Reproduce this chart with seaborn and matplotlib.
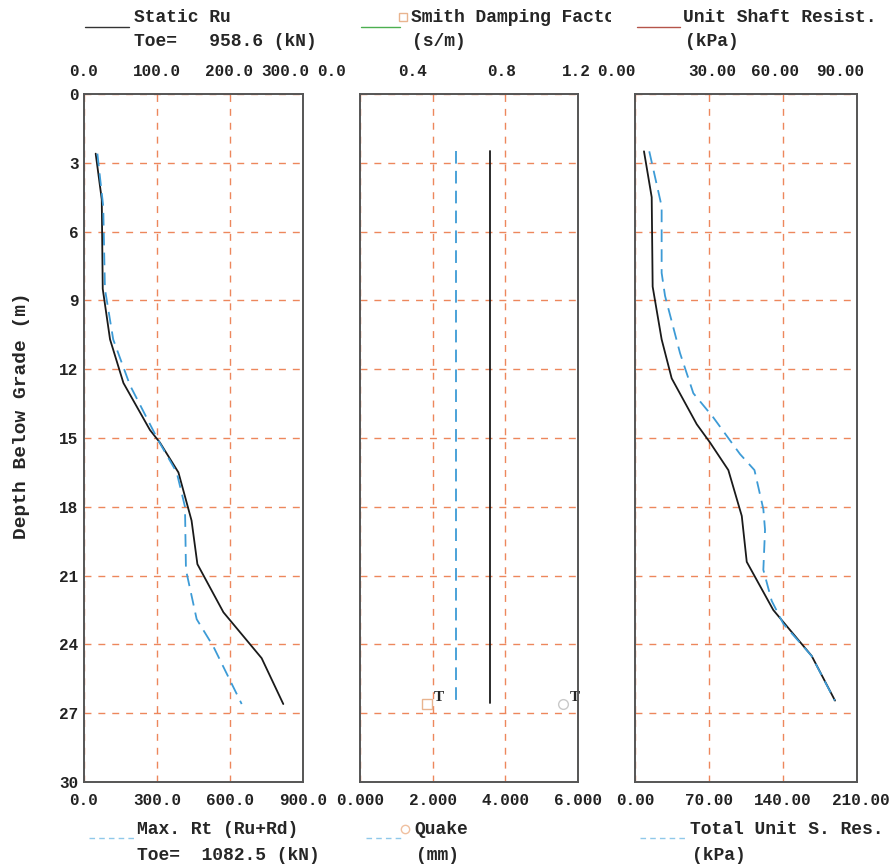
import numpy as np
import pandas as pd
import matplotlib
matplotlib.use("Agg")
import matplotlib.pyplot as plt
import seaborn as sns
from matplotlib.lines import Line2D
from matplotlib.transforms import ScaledTranslation, Bbox, TransformedBbox

# ---------------- data ----------------
# Panel 1: static and max resistance (kN)
ru_depth = [2.6, 4.6, 8.5, 10.7, 12.6, 14.65, 15.2, 16.5, 18.6, 20.5, 22.6, 24.6, 26.6]
ru_static = [48, 73, 77, 107, 162, 271, 312, 388, 442, 466, 573, 730, 819]
rt_depth = [2.6, 4.9, 8.5, 10.7, 12.7, 15.1, 16.5, 18.0, 20.75, 22.9, 24.1, 26.6]
rt_max = [55, 79, 86, 120, 189, 305, 381, 415, 419, 463, 532, 648]

# Panel 2: damping (s/m) and quake (mm)
dq_depth = [2.5, 26.55]
damping = [0.716, 0.716]
quake = [2.64, 2.64]
toe_depth = 26.6
toe_damping = 0.37
toe_quake = 5.6

# Panel 3: unit shaft resistance (kPa)
shaft_depth = [2.5, 4.5, 8.4, 10.7, 12.4, 14.4, 15.2, 16.4, 18.4, 20.4, 22.5, 24.5, 26.45]
shaft_unit = [8.5, 15.8, 16.7, 25.2, 34.7, 58.4, 71, 88.3, 101, 105.7, 130.8, 167.1, 189.2]
total_depth = [2.5, 4.9, 7.8, 8.8, 11.3, 13.05, 14.1, 15.7, 16.4, 18.1, 19.0, 20.75,
               22.1, 23.1, 24.5, 26.45]
total_unit = [13.5, 25.2, 25.2, 28.4, 42.6, 55.2, 74, 99.3, 113, 121.4, 123, 121.4,
              129.3, 140.3, 167, 189]

depth_ticks = list(range(0, 31, 3))
p1_bottom = [0, 300, 600, 900]
p1_top = [0, 100, 200, 300]
p2_bottom = [0, 2, 4, 6]
p2_top = [0, 0.4, 0.8, 1.2]
p3_bottom = [0, 70, 140, 210]
p3_top = [0, 30, 60, 90]
p1_bottom_lbl = ["0.0", "300.0", "600.0", "900.0"]
p1_top_lbl = ["0.0", "100.0", "200.0", "300.0"]
p2_bottom_lbl = ["0.000", "2.000", "4.000", "6.000"]
p2_top_lbl = ["0.0", "0.4", "0.8", "1.2"]
p3_bottom_lbl = ["0.00", "70.00", "140.00", "210.00"]
p3_top_lbl = ["0.00", "30.00", "60.00", "90.00"]

# ---------------- style ----------------
sns.set_theme(style="white")
plt.rcParams["font.family"] = ["Liberation Mono", "DejaVu Sans Mono"]
plt.rcParams["font.weight"] = "bold"

BLACK = "#1a1a1a"
BLUE = "#3d9bd6"
GRID = "#ec7a4a"
SPINE = "#555555"
FS_TICK = 11.5
FS_LEG = 13

W, H = 893, 865
fig = plt.figure(figsize=(W / 100, H / 100), dpi=100)


def rect(l, r, t=94, b=782):
    return [l / W, 1 - b / H, (r - l) / W, (b - t) / H]


ax1 = fig.add_axes(rect(84, 303))
ax2 = fig.add_axes(rect(360, 578))
ax3 = fig.add_axes(rect(635, 857))


def setup(ax, xb, xb_lbl, xt, xt_lbl, show_y):
    ax.set_xlim(xb[0], xb[-1])
    ax.set_ylim(30, 0)
    ax.set_yticks(depth_ticks)
    if show_y:
        ax.set_yticklabels([str(d) for d in depth_ticks], fontsize=FS_TICK, fontweight="bold")
    else:
        ax.set_yticklabels([])
    ax.set_xticks(xb)
    ax.set_xticklabels(xb_lbl, fontsize=FS_TICK, fontweight="bold")
    ax.tick_params(axis="both", length=0, colors="#222222")
    ax.tick_params(axis="x", pad=8)
    ax.tick_params(axis="y", pad=4)
    ax.grid(True, color=GRID, linestyle=(0, (5, 5)), linewidth=1.0, alpha=0.9)
    for s in ax.spines.values():
        s.set_color(SPINE)
        s.set_linewidth(1.2)
    axt = ax.twiny()
    axt.set_xlim(xt[0], xt[-1])
    axt.set_xticks(xt)
    axt.set_xticklabels(xt_lbl, fontsize=FS_TICK, fontweight="bold")
    axt.tick_params(axis="x", length=0, pad=11, colors="#222222")
    for s in axt.spines.values():
        s.set_color(SPINE)
        s.set_linewidth(1.2)
    return axt


ax1t = setup(ax1, p1_bottom, p1_bottom_lbl, p1_top, p1_top_lbl, True)
ax2t = setup(ax2, p2_bottom, p2_bottom_lbl, p2_top, p2_top_lbl, False)
ax3t = setup(ax3, p3_bottom, p3_bottom_lbl, p3_top, p3_top_lbl, False)

dash = (0, (7, 4))
LW = 1.3

# Panel 1
sns.lineplot(x=ru_static, y=ru_depth, ax=ax1, orient="y", sort=False, estimator=None,
             color=BLACK, linewidth=LW)
sns.lineplot(x=rt_max, y=rt_depth, ax=ax1, orient="y", sort=False, estimator=None,
             color=BLUE, linewidth=LW, linestyle=dash)

# Panel 2
sns.lineplot(x=damping, y=dq_depth, ax=ax2t, orient="y", sort=False, estimator=None,
             color=BLACK, linewidth=LW)
sns.lineplot(x=quake, y=dq_depth, ax=ax2, orient="y", sort=False, estimator=None,
             color=BLUE, linewidth=LW, linestyle=dash)
ax2t.plot([toe_damping], [toe_depth], marker="s", ms=7, mfc="none", mec="#e9b48f", mew=1.0,
          linestyle="none")
ax2.plot([toe_quake], [toe_depth], marker="o", ms=7, mfc="none", mec="#c9c9c9", mew=1.0,
         linestyle="none")
ax2t.annotate("T", (toe_damping, toe_depth), xytext=(8, 5), textcoords="offset points",
              fontsize=11, fontweight="bold", family="Liberation Serif", ha="center", va="center")
ax2.annotate("T", (toe_quake, toe_depth), xytext=(8, 5), textcoords="offset points",
             fontsize=11, fontweight="bold", family="Liberation Serif", ha="center", va="center")

# Panel 3
sns.lineplot(x=shaft_unit, y=shaft_depth, ax=ax3, orient="y", sort=False, estimator=None,
             color=BLACK, linewidth=LW)
sns.lineplot(x=total_unit, y=total_depth, ax=ax3, orient="y", sort=False, estimator=None,
             color=BLUE, linewidth=LW, linestyle=dash)

for a in (ax1, ax2, ax3, ax1t, ax2t, ax3t):
    a.set_xlabel("")
    a.set_ylabel("")
    a.set_ylim(30, 0)

# shift tick labels horizontally (pixels) as laid out in the reference
label_shift = {
    ax1t: [0, 0, -1, -18],
    ax2t: [-28, -20, -4, -2],
    ax3t: [-19, 3, -8, -17],
    ax3: [0, 0, 0, 4],
}
for a, shifts in label_shift.items():
    for lab, dx in zip(a.get_xticklabels(), shifts):
        lab.set_transform(lab.get_transform() + ScaledTranslation(dx / 100, 0, fig.dpi_scale_trans))

fig.text(22 / W, 1 - 416 / H, "Depth Below Grade (m)", rotation=90, ha="center", va="center",
         fontsize=14, fontweight="bold")


# ---------------- legend texts ----------------
def ftxt(x, y, s, clip_right=None, **kw):
    t = fig.text(x / W, 1 - y / H, s, ha="left", va="center", fontsize=FS_LEG,
                 fontweight="bold", **kw)
    if clip_right is not None:
        t.set_clip_box(TransformedBbox(Bbox([[0, 0], [clip_right / W, 1]]), fig.transFigure))
        t.set_clip_on(True)
    return t


def fline(x0, x1, y, color, ls="-"):
    fig.add_artist(Line2D([x0 / W, x1 / W], [1 - y / H, 1 - y / H], color=color, lw=1.0,
                          linestyle=ls, transform=fig.transFigure))


fline(85, 129, 27, "#333333")
ftxt(134, 18, "Static Ru")
ftxt(134, 42, "Toe=   958.6 (kN)")

fline(361, 400, 27, "#4caf50")
fig.add_artist(Line2D([403 / W], [1 - 17 / H], marker="s", ms=6, mfc="none", mec="#e9b48f",
                      transform=fig.transFigure))
ftxt(411, 18, "Smith Damping Factor", clip_right=611)
ftxt(412, 42, "(s/m)")

fline(637, 680, 27, "#b5544a")
ftxt(683, 18, "Unit Shaft Resist.")
ftxt(685, 42, "(kPa)")

fline(89, 134, 838, "#8fc8ea", ls=(0, (4, 3)))
ftxt(137, 829, "Max. Rt (Ru+Rd)")
ftxt(137, 856, "Toe=  1082.5 (kN)")

fline(366, 403, 838, "#8fc8ea", ls=(0, (4, 3)))
fig.add_artist(Line2D([405 / W], [1 - 829 / H], marker="o", ms=6, mfc="none", mec="#f0c0a0",
                      transform=fig.transFigure))
ftxt(414, 829, "Quake")
ftxt(416, 856, "(mm)")

fline(640, 686, 838, "#8fc8ea", ls=(0, (4, 3)))
ftxt(690, 829, "Total Unit S. Res.")
ftxt(692, 856, "(kPa)")

fig.savefig("out.png", dpi=100)
